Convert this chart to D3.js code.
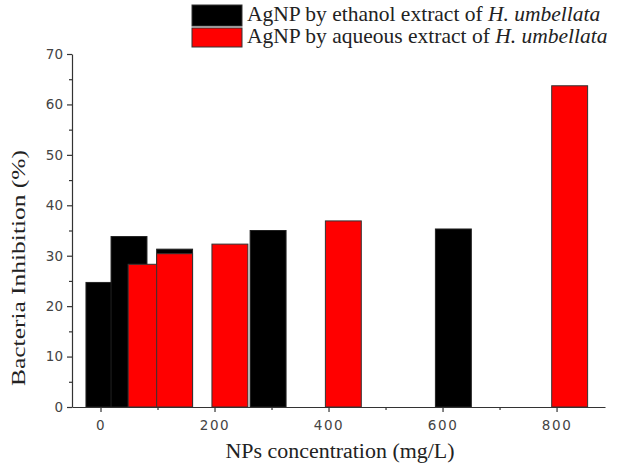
<!DOCTYPE html>
<html>
<head>
<meta charset="utf-8">
<script src="https://cdn.jsdelivr.net/npm/d3@7"></script>
<style>
  body { margin: 0; background: #fff; }
  svg { display: block; }
  .serif { font-family: "Liberation Serif", "Times New Roman", Times, serif; }
</style>
</head>
<body>
<div id="chart"></div>
<script>
// ethanol extract bars (black)
const ethanolX = [6, 50, 130, 294, 619];
const ethanolY = [24.7, 33.8, 31.3, 35.0, 35.3];
// aqueous extract bars (red)
const aqueousX = [80, 130, 227, 426, 823];
const aqueousY = [28.3, 30.4, 32.3, 36.9, 63.7];

const xMajor = [0, 200, 400, 600, 800];
const xMinor = [100, 300, 500, 700];
const yMajor = [0, 10, 20, 30, 40, 50, 60, 70];
const yMinor = [5, 15, 25, 35, 45, 55, 65];

const legendLabels = ["AgNP by ethanol extract of ", "AgNP by aqueous extract of "];
const legendItalic = "H. umbellata";
const seriesColors = ["#000000", "#ff0000"];

const W = 626, H = 465;
const barW = 63; // in data units

const svg = d3.select("#chart").append("svg")
    .attr("width", W).attr("height", H);

const x = d3.scaleLinear().domain([-50, 885]).range([72, 605]);
const y = d3.scaleLinear().domain([0, 70]).range([407, 54]);

const ethanol = ethanolX.map((v, i) => ({ x: v, y: ethanolY[i] }));
const aqueous = aqueousX.map((v, i) => ({ x: v, y: aqueousY[i] }));

// bars: black first, red on top
svg.append("g").selectAll("rect").data(ethanol).enter().append("rect")
    .attr("x", d => x(d.x - barW / 2))
    .attr("width", d => x(d.x + barW / 2) - x(d.x - barW / 2))
    .attr("y", d => y(d.y))
    .attr("height", d => y(0) - y(d.y))
    .attr("fill", seriesColors[0])
    .attr("stroke", "#222").attr("stroke-width", 1);

svg.append("g").selectAll("rect").data(aqueous).enter().append("rect")
    .attr("x", d => x(d.x - barW / 2))
    .attr("width", d => x(d.x + barW / 2) - x(d.x - barW / 2))
    .attr("y", d => y(d.y))
    .attr("height", d => y(0) - y(d.y))
    .attr("fill", seriesColors[1])
    .attr("stroke", "#333").attr("stroke-width", 1);

// axes
const xAxis = svg.append("g").attr("transform", `translate(0,${y(0)})`)
    .call(d3.axisBottom(x).tickValues(xMajor).tickSize(5).tickPadding(8).tickSizeOuter(0));
svg.append("g").attr("transform", `translate(0,${y(0)})`)
    .call(d3.axisBottom(x).tickValues(xMinor).tickSize(3).tickFormat("").tickSizeOuter(0))
    .select(".domain").remove();

const yAxis = svg.append("g").attr("transform", `translate(${x(-50)},0)`)
    .call(d3.axisLeft(y).tickValues(yMajor).tickSize(5).tickPadding(4).tickSizeOuter(0));
svg.append("g").attr("transform", `translate(${x(-50)},0)`)
    .call(d3.axisLeft(y).tickValues(yMinor).tickSize(3).tickFormat("").tickSizeOuter(0))
    .select(".domain").remove();

svg.selectAll(".domain, .tick line").attr("stroke", "#333").attr("stroke-width", 1.2);
svg.selectAll(".tick text")
    .attr("fill", "#444")
    .attr("font-family", "'DejaVu Sans', sans-serif")
    .attr("font-size", 13.5);
xAxis.selectAll(".tick text").style("letter-spacing", "1.6px");

// axis titles
svg.append("text")
    .attr("class", "serif")
    .attr("x", 340).attr("y", 458)
    .attr("text-anchor", "middle")
    .attr("font-size", 20)
    .attr("fill", "#222")
    .attr("textLength", 229).attr("lengthAdjust", "spacingAndGlyphs")
    .text("NPs concentration (mg/L)");

svg.append("text")
    .attr("class", "serif")
    .attr("transform", "translate(25,268) rotate(-90)")
    .attr("text-anchor", "middle")
    .attr("font-size", 18)
    .attr("fill", "#222")
    .attr("textLength", 236).attr("lengthAdjust", "spacingAndGlyphs")
    .text("Bacteria Inhibition (%)");

// legend
const legend = svg.append("g");
legendLabels.forEach((lab, i) => {
    const top = [5, 28][i], h = [21, 19][i];
    legend.append("rect")
        .attr("x", 192).attr("y", top).attr("width", 50).attr("height", h)
        .attr("fill", seriesColors[i]).attr("stroke", "#333").attr("stroke-width", 1);
    const t = legend.append("text")
        .attr("class", "serif")
        .attr("x", 247).attr("y", [21, 43][i])
        .attr("font-size", 21.5)
        .attr("fill", "#222");
    t.append("tspan").text(lab);
    t.append("tspan").attr("font-style", "italic").text(legendItalic);
});
</script>
</body>
</html>
